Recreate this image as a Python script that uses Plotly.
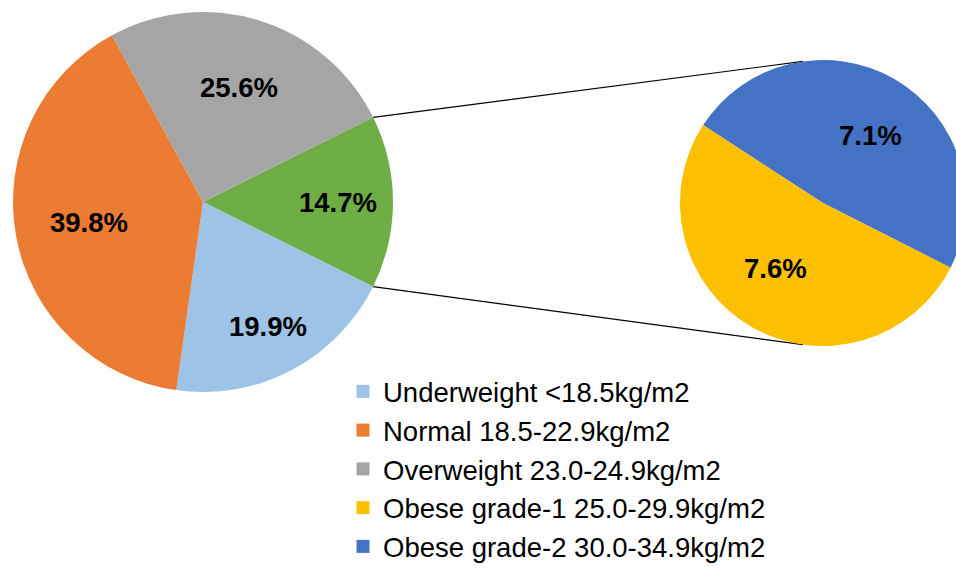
import math
import plotly.graph_objects as go

# ---------------- data ----------------
main_labels = ["Obese 25.0-34.9kg/m2", "Underweight <18.5kg/m2", "Normal 18.5-22.9kg/m2", "Overweight 23.0-24.9kg/m2"]
main_values = [14.7, 19.9, 39.8, 25.6]
main_text = ["14.7%", "19.9%", "39.8%", "25.6%"]

sub_labels = ["Obese grade-2 30.0-34.9kg/m2", "Obese grade-1 25.0-29.9kg/m2"]
sub_values = [7.1, 7.6]
sub_text = ["7.1%", "7.6%"]

legend_labels = ["Underweight <18.5kg/m2", "Normal 18.5-22.9kg/m2", "Overweight 23.0-24.9kg/m2",
                 "Obese grade-1 25.0-29.9kg/m2", "Obese grade-2 30.0-34.9kg/m2"]

# ---------------- style ----------------
main_colors = ["#6FAD47", "#9DC3E6", "#EC7B33", "#A5A5A5"]
sub_colors = ["#4472C4", "#FCC000"]
legend_colors = ["#9DC3E6", "#EC7B33", "#A5A5A5", "#FCC000", "#4472C4"]
FONT = "Arial, Liberation Sans, sans-serif"

VIEW_W, H = 956, 568
W = 966  # figure slightly wider than the window so the zoom pie is cut at the right edge
# main pie box (px)
M_X0, M_X1, M_Y0, M_Y1 = 13, 393, 12, 392
# sub pie box (px)
S_X0, S_X1, S_Y0, S_Y1 = 680, 966, 60, 346

main_label_r = [0.71, 0.74, 0.61, 0.63]
main_label_da = [0, 0, 0, 0]
sub_label_r = [0.58, 0.565]
sub_label_da = [-5, -6]


def dom(x0, x1, y0, y1):
    return dict(x=[x0 / W, x1 / W], y=[1 - y1 / H, 1 - y0 / H])


main_total = sum(main_values)
main_rot = 90 - main_values[0] / main_total * 180
sub_rot = -57

fig = go.Figure()
fig.add_trace(go.Pie(
    labels=main_labels, values=main_values, sort=False, direction="clockwise",
    rotation=main_rot, marker=dict(colors=main_colors, line=dict(width=0)),
    textinfo="none", hoverinfo="label+percent", showlegend=False,
    domain=dom(M_X0, M_X1, M_Y0, M_Y1)))
fig.add_trace(go.Pie(
    labels=sub_labels, values=sub_values, sort=False, direction="clockwise",
    rotation=sub_rot, marker=dict(colors=sub_colors, line=dict(width=0)),
    textinfo="none", hoverinfo="label+value", showlegend=False,
    domain=dom(S_X0, S_X1, S_Y0, S_Y1)))

# legend entries
for lab, col in zip(legend_labels, legend_colors):
    fig.add_trace(go.Scatter(x=[None], y=[None], mode="markers", name=lab,
                             marker=dict(symbol="square", size=13, color=col),
                             showlegend=True))

annotations = []


def add_labels(values, texts, fracs, dangs, x0, x1, y0, y1, rot):
    cx, cy = (x0 + x1) / 2, (y0 + y1) / 2
    r = min(x1 - x0, y1 - y0) / 2
    tot = sum(values)
    a = 90 - rot
    for v, t, f, da in zip(values, texts, fracs, dangs):
        span = v / tot * 360
        mid = math.radians(a - span / 2 + da)
        px = cx + f * r * math.cos(mid)
        py = cy - f * r * math.sin(mid)
        annotations.append(dict(x=px / W, y=1 - py / H, xref="paper", yref="paper",
                                text="<b>%s</b>" % t, showarrow=False,
                                xanchor="center", yanchor="middle",
                                font=dict(family=FONT, size=27.5, color="#000000")))
        a -= span


add_labels(main_values, main_text, main_label_r, main_label_da, M_X0, M_X1, M_Y0, M_Y1, main_rot)
add_labels(sub_values, sub_text, sub_label_r, sub_label_da, S_X0, S_X1, S_Y0, S_Y1, sub_rot)

# connector lines
mcx, mcy = (M_X0 + M_X1) / 2, (M_Y0 + M_Y1) / 2
mr = (M_X1 - M_X0) / 2
half = math.radians(main_values[0] / main_total * 180)
scx, scy = (S_X0 + S_X1) / 2, (S_Y0 + S_Y1) / 2
sr = (S_X1 - S_X0) / 2
shapes = []
for sgn in (1, -1):
    x0 = mcx + mr * math.cos(half)
    y0 = mcy - sgn * mr * math.sin(half)
    x1 = scx - 0.14 * sr
    y1 = scy - sgn * sr * 0.99
    shapes.append(dict(type="line", xref="paper", yref="paper",
                       x0=x0 / W, y0=1 - y0 / H, x1=x1 / W, y1=1 - y1 / H,
                       line=dict(color="#000000", width=1.2), layer="below"))

fig.update_layout(
    width=W, height=H, margin=dict(l=0, r=0, t=0, b=0, autoexpand=False),
    paper_bgcolor="white", plot_bgcolor="white",
    xaxis=dict(visible=False), yaxis=dict(visible=False),
    annotations=annotations, shapes=shapes,
    legend=dict(x=343 / W, y=1 - 367 / H, xanchor="left", yanchor="top",
                font=dict(family=FONT, size=27.5, color="#000000"),
                bgcolor="rgba(0,0,0,0)", itemsizing="trace"),
    font=dict(family=FONT),
)

fig.write_html("out.html", config={"displayModeBar": False},
               post_script="document.body.style.margin='0';document.body.style.overflow='hidden';"
                           "document.documentElement.style.overflow='hidden';")
